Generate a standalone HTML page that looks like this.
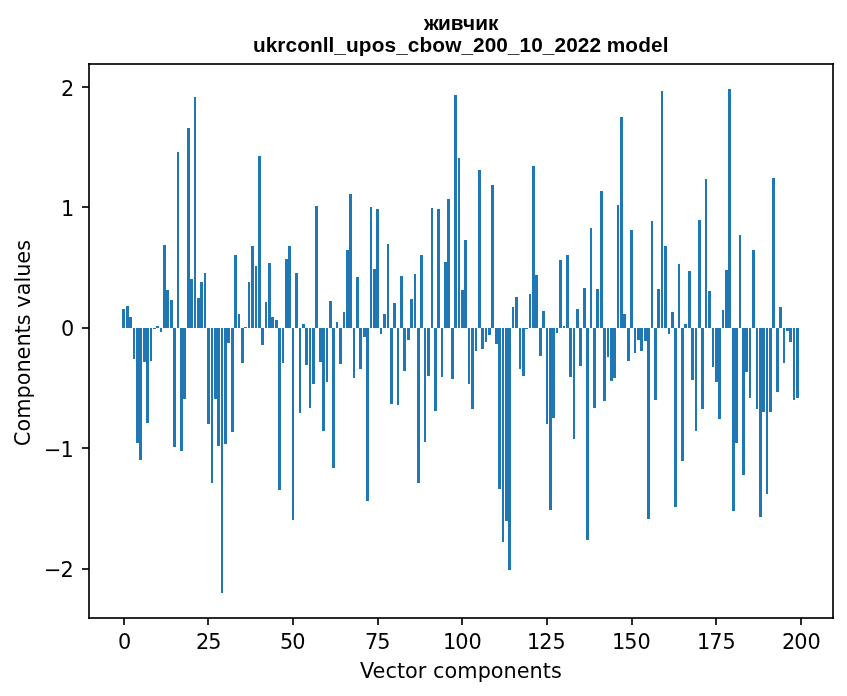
<!DOCTYPE html>
<html lang="uk">
<head>
<meta charset="utf-8">
<title>живчик — ukrconll_upos_cbow_200_10_2022 model</title>
<style>
html,body{margin:0;padding:0;background:#fff;}
body{width:847px;height:696px;overflow:hidden;}
svg{display:block;position:absolute;left:0;top:0;}
.bars rect{fill:#1f77b4;}
.frame rect{fill:#000;fill-opacity:0.835;}
text{fill:#000;font-size:20.8333px;font-family:"DejaVu Sans","Liberation Sans",sans-serif;white-space:pre;}
.title{font-family:"Liberation Sans","DejaVu Sans",sans-serif;font-weight:bold;}
</style>
</head>
<body>
<svg width="847" height="696" viewBox="0 0 847 696" role="img" aria-label="Bar chart of vector components">
<rect x="0" y="0" width="847" height="696" fill="#fff"/>
<g class="bars" shape-rendering="crispEdges">
<rect x="122" y="309" width="3" height="19"/><rect x="126" y="306" width="3" height="22"/><rect x="129" y="317" width="3" height="11"/><rect x="133" y="328" width="2" height="31"/><rect x="136" y="328" width="3" height="115"/><rect x="139" y="328" width="3" height="132"/><rect x="143" y="328" width="3" height="34"/><rect x="146" y="328" width="3" height="95"/>
<rect x="150" y="328" width="2" height="33"/><rect x="153" y="328" width="3" height="1"/><rect x="156" y="326" width="3" height="2"/><rect x="160" y="328" width="2" height="4"/><rect x="163" y="245" width="3" height="83"/><rect x="166" y="290" width="3" height="38"/><rect x="170" y="300" width="3" height="28"/><rect x="173" y="328" width="3" height="119"/>
<rect x="177" y="152" width="2" height="176"/><rect x="180" y="328" width="3" height="123"/><rect x="183" y="328" width="3" height="71"/><rect x="187" y="128" width="3" height="200"/><rect x="190" y="279" width="3" height="49"/><rect x="194" y="97" width="2" height="231"/><rect x="197" y="298" width="3" height="30"/><rect x="200" y="282" width="3" height="46"/>
<rect x="204" y="273" width="2" height="55"/><rect x="207" y="328" width="3" height="96"/><rect x="211" y="328" width="2" height="155"/><rect x="214" y="328" width="3" height="71"/><rect x="217" y="328" width="3" height="118"/><rect x="221" y="328" width="2" height="265"/><rect x="224" y="328" width="3" height="116"/><rect x="227" y="328" width="3" height="15"/>
<rect x="231" y="328" width="3" height="104"/><rect x="234" y="255" width="3" height="73"/><rect x="238" y="314" width="2" height="14"/><rect x="241" y="328" width="3" height="35"/><rect x="244" y="327" width="3" height="1"/><rect x="248" y="282" width="2" height="46"/><rect x="251" y="246" width="3" height="82"/><rect x="255" y="266" width="2" height="62"/>
<rect x="258" y="156" width="3" height="172"/><rect x="261" y="328" width="3" height="17"/><rect x="265" y="302" width="2" height="26"/><rect x="268" y="263" width="3" height="65"/><rect x="271" y="317" width="3" height="11"/><rect x="275" y="320" width="3" height="8"/><rect x="278" y="328" width="3" height="162"/><rect x="282" y="328" width="2" height="35"/>
<rect x="285" y="259" width="3" height="69"/><rect x="288" y="246" width="3" height="82"/><rect x="292" y="328" width="2" height="192"/><rect x="295" y="273" width="3" height="55"/><rect x="299" y="328" width="2" height="85"/><rect x="302" y="324" width="3" height="4"/><rect x="305" y="328" width="3" height="37"/><rect x="309" y="328" width="2" height="80"/>
<rect x="312" y="328" width="3" height="56"/><rect x="315" y="206" width="3" height="122"/><rect x="319" y="328" width="3" height="34"/><rect x="322" y="328" width="3" height="103"/><rect x="326" y="328" width="2" height="54"/><rect x="329" y="301" width="3" height="27"/><rect x="332" y="328" width="3" height="140"/><rect x="336" y="322" width="2" height="6"/>
<rect x="339" y="328" width="3" height="36"/><rect x="343" y="312" width="2" height="16"/><rect x="346" y="250" width="3" height="78"/><rect x="349" y="194" width="3" height="134"/><rect x="353" y="328" width="2" height="50"/><rect x="356" y="277" width="3" height="51"/><rect x="359" y="328" width="3" height="41"/><rect x="363" y="328" width="3" height="9"/>
<rect x="366" y="328" width="3" height="173"/><rect x="370" y="207" width="2" height="121"/><rect x="373" y="269" width="3" height="59"/><rect x="376" y="209" width="3" height="119"/><rect x="380" y="328" width="2" height="6"/><rect x="383" y="314" width="3" height="14"/><rect x="387" y="244" width="2" height="84"/><rect x="390" y="328" width="3" height="76"/>
<rect x="393" y="303" width="3" height="25"/><rect x="397" y="328" width="2" height="77"/><rect x="400" y="276" width="3" height="52"/><rect x="403" y="328" width="3" height="43"/><rect x="407" y="328" width="3" height="12"/><rect x="410" y="299" width="3" height="29"/><rect x="414" y="274" width="2" height="54"/><rect x="417" y="328" width="3" height="155"/>
<rect x="420" y="255" width="3" height="73"/><rect x="424" y="328" width="2" height="114"/><rect x="427" y="328" width="3" height="48"/><rect x="431" y="208" width="2" height="120"/><rect x="434" y="328" width="3" height="83"/><rect x="437" y="209" width="3" height="119"/><rect x="441" y="328" width="2" height="49"/><rect x="444" y="262" width="3" height="66"/>
<rect x="447" y="199" width="3" height="129"/><rect x="451" y="328" width="3" height="51"/><rect x="454" y="95" width="3" height="233"/><rect x="458" y="158" width="2" height="170"/><rect x="461" y="290" width="3" height="38"/><rect x="464" y="240" width="3" height="88"/><rect x="468" y="328" width="2" height="56"/><rect x="471" y="328" width="3" height="81"/>
<rect x="475" y="328" width="2" height="23"/><rect x="478" y="170" width="3" height="158"/><rect x="481" y="328" width="3" height="21"/><rect x="485" y="328" width="2" height="14"/><rect x="488" y="328" width="3" height="7"/><rect x="491" y="185" width="3" height="143"/><rect x="495" y="328" width="3" height="16"/><rect x="498" y="328" width="3" height="161"/>
<rect x="502" y="328" width="2" height="214"/><rect x="505" y="328" width="3" height="193"/><rect x="508" y="328" width="3" height="242"/><rect x="512" y="307" width="2" height="21"/><rect x="515" y="297" width="3" height="31"/><rect x="519" y="328" width="2" height="41"/><rect x="522" y="328" width="3" height="48"/><rect x="525" y="328" width="3" height="1"/>
<rect x="529" y="294" width="2" height="34"/><rect x="532" y="166" width="3" height="162"/><rect x="535" y="275" width="3" height="53"/><rect x="539" y="328" width="3" height="28"/><rect x="542" y="311" width="3" height="17"/><rect x="546" y="328" width="2" height="96"/><rect x="549" y="328" width="3" height="182"/><rect x="552" y="328" width="3" height="90"/>
<rect x="556" y="328" width="2" height="5"/><rect x="559" y="260" width="3" height="68"/><rect x="563" y="326" width="2" height="2"/><rect x="566" y="255" width="3" height="73"/><rect x="569" y="328" width="3" height="49"/><rect x="573" y="328" width="2" height="111"/><rect x="576" y="309" width="3" height="19"/><rect x="579" y="328" width="3" height="38"/>
<rect x="583" y="288" width="3" height="40"/><rect x="586" y="328" width="3" height="212"/><rect x="590" y="228" width="2" height="100"/><rect x="593" y="328" width="3" height="80"/><rect x="596" y="289" width="3" height="39"/><rect x="600" y="191" width="3" height="137"/><rect x="603" y="328" width="3" height="73"/><rect x="607" y="328" width="2" height="29"/>
<rect x="610" y="328" width="3" height="53"/><rect x="613" y="328" width="3" height="50"/><rect x="617" y="205" width="2" height="123"/><rect x="620" y="117" width="3" height="211"/><rect x="623" y="314" width="3" height="14"/><rect x="627" y="328" width="3" height="33"/><rect x="630" y="230" width="3" height="98"/><rect x="634" y="328" width="2" height="25"/>
<rect x="637" y="328" width="3" height="12"/><rect x="640" y="328" width="3" height="23"/><rect x="644" y="328" width="3" height="13"/><rect x="647" y="328" width="3" height="191"/><rect x="651" y="221" width="2" height="107"/><rect x="654" y="328" width="3" height="72"/><rect x="657" y="289" width="3" height="39"/><rect x="661" y="91" width="2" height="237"/>
<rect x="664" y="246" width="3" height="82"/><rect x="668" y="328" width="2" height="6"/><rect x="671" y="312" width="3" height="16"/><rect x="674" y="328" width="3" height="179"/><rect x="678" y="264" width="2" height="64"/><rect x="681" y="328" width="3" height="133"/><rect x="684" y="324" width="3" height="4"/><rect x="688" y="271" width="3" height="57"/>
<rect x="691" y="328" width="3" height="52"/><rect x="695" y="328" width="2" height="103"/><rect x="698" y="220" width="3" height="108"/><rect x="701" y="328" width="3" height="81"/><rect x="705" y="179" width="2" height="149"/><rect x="708" y="291" width="3" height="37"/><rect x="712" y="328" width="2" height="39"/><rect x="715" y="328" width="3" height="54"/>
<rect x="718" y="328" width="3" height="91"/><rect x="722" y="310" width="2" height="18"/><rect x="725" y="270" width="3" height="58"/><rect x="728" y="89" width="3" height="239"/><rect x="732" y="328" width="3" height="183"/><rect x="735" y="328" width="3" height="115"/><rect x="739" y="235" width="2" height="93"/><rect x="742" y="328" width="3" height="147"/>
<rect x="745" y="328" width="3" height="44"/><rect x="749" y="328" width="2" height="70"/><rect x="752" y="250" width="3" height="78"/><rect x="756" y="328" width="2" height="81"/><rect x="759" y="328" width="3" height="189"/><rect x="762" y="328" width="3" height="84"/><rect x="766" y="328" width="2" height="166"/><rect x="769" y="328" width="3" height="84"/>
<rect x="772" y="178" width="3" height="150"/><rect x="776" y="328" width="3" height="64"/><rect x="779" y="307" width="3" height="21"/><rect x="783" y="328" width="2" height="35"/><rect x="786" y="328" width="3" height="3"/><rect x="789" y="328" width="3" height="14"/><rect x="793" y="328" width="2" height="72"/><rect x="796" y="328" width="3" height="70"/>
</g>
<g class="frame" shape-rendering="crispEdges">
<rect x="88" y="63" width="2" height="556"/><rect x="832" y="63" width="2" height="556"/><rect x="88" y="63" width="746" height="2"/><rect x="88" y="617" width="746" height="2"/>
<rect x="123" y="618" width="2" height="7"/><rect x="207" y="618" width="2" height="7"/><rect x="292" y="618" width="2" height="7"/><rect x="377" y="618" width="2" height="7"/><rect x="461" y="618" width="2" height="7"/><rect x="546" y="618" width="2" height="7"/><rect x="631" y="618" width="2" height="7"/><rect x="715" y="618" width="2" height="7"/><rect x="800" y="618" width="2" height="7"/>
<rect x="82" y="86" width="7" height="2"/><rect x="82" y="206" width="7" height="2"/><rect x="82" y="327" width="7" height="2"/><rect x="82" y="447" width="7" height="2"/><rect x="82" y="568" width="7" height="2"/>
</g>
<g class="xticks">
<text x="118.12" y="648.5">0</text>
<text x="196.04 208.29" y="648.5">25</text>
<text x="279.89 292.14" y="648.5">50</text>
<text x="364.99 377.24" y="648.5">75</text>
<text x="443.07 455.32 468.57" y="648.5">100</text>
<text x="526.92 539.17 552.42" y="648.5">125</text>
<text x="612.12 624.37 637.62" y="648.5">150</text>
<text x="696.97 709.22 722.47" y="648.5">175</text>
<text x="782.07 794.32 807.57" y="648.5">200</text>
</g>
<g class="yticks">
<text x="60.98" y="95.5">2</text>
<text x="60.98" y="215.5">1</text>
<text x="60.98" y="335.5">0</text>
<text x="44.03 60.59" y="456.5">−1</text>
<text x="44.03 60.59" y="576.5">−2</text>
</g>
<text class="xlabel" x="359.91 372.54 385.6 397.05 404.98 417.71 426.27 432.9 444.6 457.34 477.63 490.85 503.59 516.79 529.6 542.8 550.98" y="677.5">Vector components</text>
<text class="ylabel" transform="translate(29.5,343) rotate(-90)" x="-103.32 -88.54 -75.79 -55.51 -42.29 -29.54 -16.59 -3.52 9.55 17.84 28.7 35.32 47.65 60.4 66.2 79.15 92.21" y="0">Components values</text>
<text class="title" x="424.05 438.06 450.86 463.12 475.22 487.89" y="30">живчик</text>
<text class="title" x="253.1 265.7 277.27 285.38 297.34 310.05 322.79 328.57 334.35 346.07 358.66 371.63 384.62 396.2 407.77 419.62 432.34 445.3 461.51 473.09 484.68 496.26 507.84 519.43 531.26 542.84 554.43 566.26 577.84 589.43 601.01 606.79 625.32 638.29 650.88 662.73" y="52">ukrconll_upos_cbow_200_10_2022 model</text>
</svg>
</body>
</html>
